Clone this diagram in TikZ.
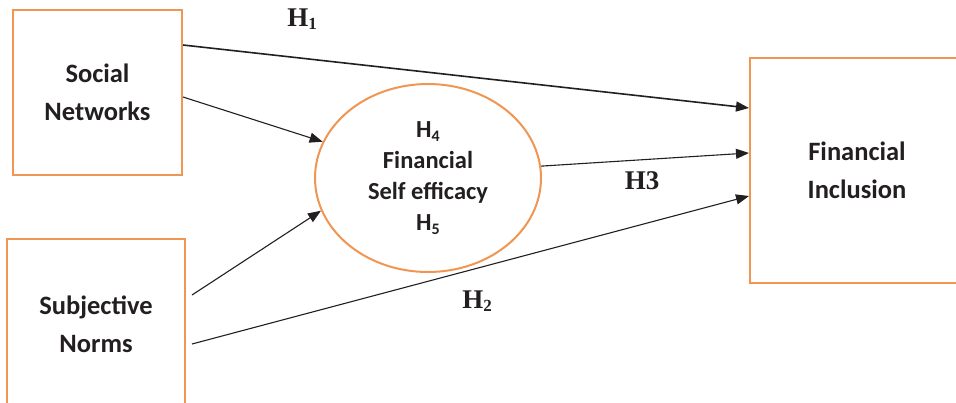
\documentclass[tikz,border=0pt]{standalone}
\usepackage{fontspec}
\setmainfont{Carlito}
\newfontfamily\hypfont{Liberation Serif}
\usetikzlibrary{arrows.meta,shapes.geometric}
\definecolor{boxorange}{RGB}{240,150,82}
\definecolor{textdark}{RGB}{35,31,32}

% lowered small index for hypothesis labels
\newcommand\hsub[2]{\raisebox{-0.28ex}{\fontsize{#1}{#1}\selectfont #2}}

\tikzset{
  conbox/.style={draw=boxorange, line width=2pt, rectangle, align=center,
    font=\bfseries\fontsize{26.5}{38}\selectfont, text=textdark, inner sep=0pt},
  latent/.style={draw=boxorange, line width=2pt, ellipse, align=center,
    font=\bfseries\fontsize{24.5}{31}\selectfont, text=textdark, inner sep=0pt},
  link/.style={draw=textdark, line width=1.1pt, -{Triangle[length=13pt,width=10pt]}},
  hyp/.style={font=\hypfont\bfseries\fontsize{27}{30}\selectfont, text=textdark, inner sep=0pt}
}

\begin{document}
\begin{tikzpicture}[x=1pt,y=-1pt]
\useasboundingbox (0,0) rectangle (956,402);
\clip (0,0) rectangle (956,402);
\fill[white] (0,0) rectangle (956,402);

% constructs
\node[conbox, minimum width=169pt, minimum height=165pt] (sn) at (97.5,92.5) {Social\\Networks};
\node[conbox, minimum width=178pt, minimum height=171pt] (sjn) at (96,324.5) {Subjective\\Norms};
\node[conbox, minimum width=214pt, minimum height=225pt] (fi) at (857,170.5) {Financial\\Inclusion};
\node[latent, minimum width=226pt, minimum height=188pt] (fse) at (428,178)
  {H\hsub{16}{4}\\Financial\\Self efficacy\\H\hsub{16}{5}};

% paths
\draw[link, line width=1.6pt] ([yshift=47.5pt]sn.east) -- ([yshift=62.5pt]fi.west);
\draw[link] ([yshift=-4.5pt]sn.east) -- (fse.161.7);
\draw[link] ([xshift=6pt,yshift=29.5pt]sjn.east) -- (fse.197.6);
\draw[link] (fse.6.5) -- ([yshift=17.5pt]fi.west);
\draw[link] ([xshift=6pt,yshift=-19.5pt]sjn.east) -- ([yshift=-25.5pt]fi.west);

% hypothesis labels
\node[hyp] (h1) at (302,19) {H\hsub{17}{1}};
\node[hyp] (h2) at (477,301) {H\hsub{17}{2}};
\node[hyp] (h3) at (642,181) {H3};
\end{tikzpicture}
\end{document}
